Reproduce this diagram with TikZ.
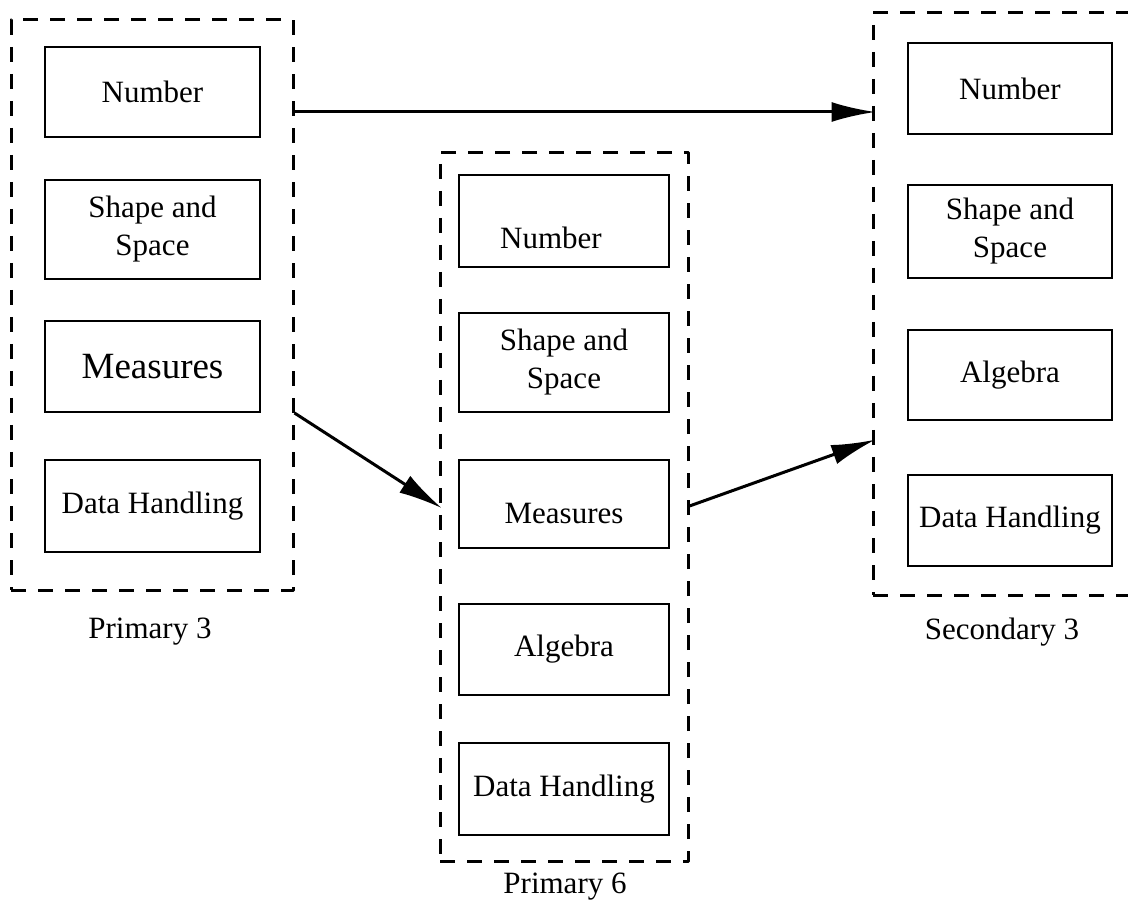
\documentclass[tikz,border=0pt]{standalone}
\usepackage{fontspec}
\setmainfont{Liberation Serif}
\usetikzlibrary{calc,positioning,arrows.meta}
\tikzset{
  >={Latex[length=44pt,width=20pt]},
  stage/.style={
    rectangle,
    draw=black, line width=3pt,
    dash pattern=on 15pt off 12pt,
    line join=round},
  topic/.style={
    rectangle,
    draw=black, line width=1.5pt,
    align=center,
    inner sep=0pt,
    font=\fontsize{31}{38}\selectfont},
  stagelabel/.style={font=\fontsize{31}{38}\selectfont},
  link/.style={draw, line width=3pt, ->, shorten >=-4pt},
}

\begin{document}
\begin{tikzpicture}[x=1pt,y=-1pt]
  \useasboundingbox (0,0) rectangle (1128,909);
  % stages
  \node[stage, minimum width=282pt, minimum height=570pt] (p3) at (152,305) {};
  \node[stage, minimum width=248pt, minimum height=708pt] (p6) at (564,507) {};
  \node[stage, minimum width=270pt, minimum height=582pt] (s3) at (1008,304) {};
  \node[stagelabel] (p3-name) at (150,632) {Primary 3};
  \node[stagelabel] (p6-name) at (565,887) {Primary 6};
  \node[stagelabel] (s3-name) at (1002,632) {Secondary 3};
  % Primary 3
  \node[topic, minimum width=215pt, minimum height=90pt] (p3-number) at (152.5,92) {Number};
  \node[topic, minimum width=215pt, minimum height=99pt] (p3-shape) at (152.5,229.5) {Shape and\\Space};
  \node[topic, minimum width=215pt, minimum height=91pt, font=\fontsize{37}{42}\selectfont] (p3-measures) at (152.5,366.5) {Measures};
  \node[topic, minimum width=215pt, minimum height=92pt] (p3-data) at (152.5,506) {Data Handling};
  % Primary 6
  \node[topic, minimum width=210pt, minimum height=92pt] (p6-number) at (564,221) {};
  \node[stagelabel] (p6-number-text) at (551,238) {Number};
  \node[topic, minimum width=210pt, minimum height=99pt] (p6-shape) at (564,362.5) {Shape and\\Space};
  \node[topic, minimum width=210pt, minimum height=88pt] (p6-measures) at (564,504) {};
  \node[stagelabel] (p6-measures-text) at (564,514) {Measures};
  \node[topic, minimum width=210pt, minimum height=91pt] (p6-algebra) at (564,649.5) {Algebra};
  \node[topic, minimum width=210pt, minimum height=92pt] (p6-data) at (564,789) {Data Handling};
  % Secondary 3
  \node[topic, minimum width=204pt, minimum height=91pt] (s3-number) at (1010,88.5) {Number};
  \node[topic, minimum width=204pt, minimum height=93pt] (s3-shape) at (1010,231.5) {Shape and\\Space};
  \node[topic, minimum width=204pt, minimum height=90pt] (s3-algebra) at (1010,375) {Algebra};
  \node[topic, minimum width=204pt, minimum height=91pt] (s3-data) at (1010,520.5) {Data Handling};
  % links between stages
  \coordinate (a-from) at (p3.east |- 0,112);
  \coordinate (a-to) at (s3.west |- 0,112);
  \coordinate (b-from) at (p3.east |- 0,413);
  \coordinate (b-to) at (p6.west |- 0,506);
  \coordinate (c-from) at (p6.east |- 0,506);
  \coordinate (c-to) at (s3.west |- 0,441);
  \draw[link] (a-from) -- (a-to);
  \draw[link] (b-from) -- (b-to);
  \draw[link] (c-from) -- (c-to);
\end{tikzpicture}
\end{document}
